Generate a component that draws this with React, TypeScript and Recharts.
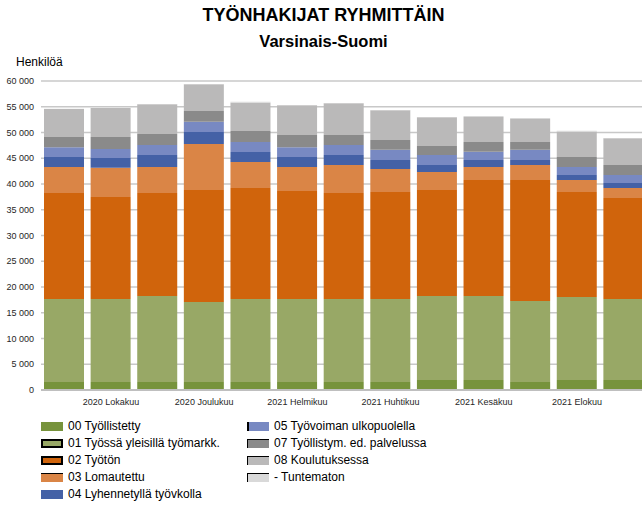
import React from "react";
import { BarChart, Bar, XAxis, YAxis, CartesianGrid } from "recharts";

const months = [
  "2020 Syyskuu", "2020 Lokakuu", "2020 Marraskuu", "2020 Joulukuu",
  "2021 Tammikuu", "2021 Helmikuu", "2021 Maaliskuu", "2021 Huhtikuu",
  "2021 Toukokuu", "2021 Kesäkuu", "2021 Heinäkuu", "2021 Elokuu", "2021 Syyskuu",
];

const tyollistetty = [1550, 1550, 1550, 1550, 1550, 1550, 1550, 1550, 1940, 1940, 1550, 1940, 1940];
const tyossaYleisilla = [16120, 16120, 16700, 15540, 16120, 16120, 16120, 16120, 16310, 16310, 15730, 16120, 15730];
const tyoton = [20580, 19810, 20000, 21740, 21550, 20970, 20580, 20780, 20580, 22530, 23500, 20390, 19610];
const lomautettu = [5050, 5690, 5050, 8940, 5050, 4660, 5440, 4460, 3500, 2520, 2910, 2330, 1940];
const lyhennetty = [1940, 1880, 2330, 2330, 1940, 1940, 1940, 1750, 1360, 1360, 970, 970, 970];
const ulkopuolella = [1880, 1750, 1940, 2000, 1950, 1880, 1940, 2000, 1940, 1620, 2000, 1550, 1560];
const palvelussa = [2010, 2330, 2140, 2070, 2130, 2390, 1940, 1880, 1750, 1880, 1500, 1940, 1940];
const koulutuksessa = [5440, 5640, 5770, 5200, 5500, 5780, 6170, 5780, 5580, 4850, 4460, 4920, 5190];
const tuntematon = [50, 50, 50, 50, 200, 50, 50, 50, 50, 200, 200, 200, 50];

const yTicks = [0, 5000, 10000, 15000, 20000, 25000, 30000, 35000, 40000, 45000, 50000, 55000, 60000];

const series = [
  { key: "s00", name: "00 Työllistetty", color: "#77933c", values: tyollistetty, icon: {} },
  { key: "s01", name: "01 Työssä yleisillä työmarkk.", color: "#98a866", values: tyossaYleisilla, icon: { border: "2px solid #000" } },
  { key: "s02", name: "02 Työtön", color: "#d0640c", values: tyoton, icon: { border: "2px solid #000" } },
  { key: "s03", name: "03 Lomautettu", color: "#da8546", values: lomautettu, icon: { borderTop: "1px solid #000" } },
  { key: "s04", name: "04 Lyhennetyllä työvkolla", color: "#4461a6", values: lyhennetty, icon: {} },
  { key: "s05", name: "05 Työvoiman ulkopuolella", color: "#7889c2", values: ulkopuolella, icon: { borderLeft: "2px solid #000" } },
  { key: "s07", name: "07 Työllistym. ed. palvelussa", color: "#8a8a8a", values: palvelussa, icon: { borderTop: "1.5px solid #000", borderLeft: "1.5px solid #000" } },
  { key: "s08", name: "08 Koulutuksessa", color: "#bab9b9", values: koulutuksessa, icon: { borderTop: "1.5px solid #000", borderLeft: "1.5px solid #000" } },
  { key: "s09", name: "- Tuntematon", color: "#d9d9d9", values: tuntematon, icon: { borderTop: "1.5px solid #000", borderLeft: "1.5px solid #000" } },
];

const data = months.map((m, i) => {
  const row: Record<string, string | number> = { month: m };
  series.forEach((s) => (row[s.key] = s.values[i]));
  return row;
});

const font = '"Liberation Sans", Arial, sans-serif';

// non-breaking space keeps "60 000" on one line
const fmt = (v: number) =>
  v >= 1000 ? `${Math.floor(v / 1000)}\u00a0${String(v % 1000).padStart(3, "0")}` : String(v);

export default function App() {
  const leftCol = series.slice(0, 5);
  const rightCol = series.slice(5);
  const legendItem = (s: (typeof series)[number]) => (
    <div key={s.key} style={{ display: "flex", alignItems: "center", height: 17 }}>
      <span
        style={{
          display: "inline-block",
          width: 22,
          height: 9,
          background: s.color,
          boxSizing: "border-box",
          marginRight: 5,
          ...s.icon,
        }}
      />
      <span>{s.name}</span>
    </div>
  );

  return (
    <div style={{ position: "absolute", left: 0, top: 0, width: 642, height: 506, overflow: "hidden", background: "#fff", fontFamily: font, color: "#000" }}>
      <div style={{ position: "absolute", left: 0, width: 647, top: 5, textAlign: "center", fontSize: 18, fontWeight: "bold" }}>
        TYÖNHAKIJAT RYHMITTÄIN
      </div>
      <div style={{ position: "absolute", left: 0, width: 647, top: 32, textAlign: "center", fontSize: 16.5, fontWeight: "bold" }}>
        Varsinais-Suomi
      </div>
      <div style={{ position: "absolute", left: 16, top: 55, fontSize: 12 }}>Henkilöä</div>

      <BarChart
        width={660}
        height={506}
        data={data}
        margin={{ top: 81, right: 13, bottom: 96, left: 0 }}
        barSize={40}
        style={{ position: "absolute", left: 0, top: 0 }}
      >
        <CartesianGrid vertical={false} stroke="#c8c8c8" strokeWidth={1.5} />
        <XAxis
          dataKey="month"
          interval={0}
          height={20}
          tickLine={false}
          tickSize={0}
          tickMargin={9}
          axisLine={{ stroke: "#bfbfbf", strokeWidth: 2 }}
          tick={{ fontSize: 9, fill: "#262626", fontFamily: font }}
          tickFormatter={(v: string, i: number) => (i % 2 === 1 ? v : "")}
        />
        <YAxis
          width={41}
          domain={[0, 60000]}
          ticks={yTicks}
          axisLine={false}
          tickLine={false}
          tickSize={0}
          tickMargin={7}
          tick={{ fontSize: 9, fill: "#262626", fontFamily: font }}
          tickFormatter={fmt}
        />
        {series.map((s) => (
          <Bar key={s.key} dataKey={s.key} name={s.name} stackId="a" fill={s.color} isAnimationActive={false} />
        ))}
      </BarChart>

      <div style={{ position: "absolute", left: 41, top: 418, fontSize: 12, lineHeight: "17px" }}>
        {leftCol.map(legendItem)}
      </div>
      <div style={{ position: "absolute", left: 247, top: 418, fontSize: 12, lineHeight: "17px" }}>
        {rightCol.map(legendItem)}
      </div>
    </div>
  );
}
